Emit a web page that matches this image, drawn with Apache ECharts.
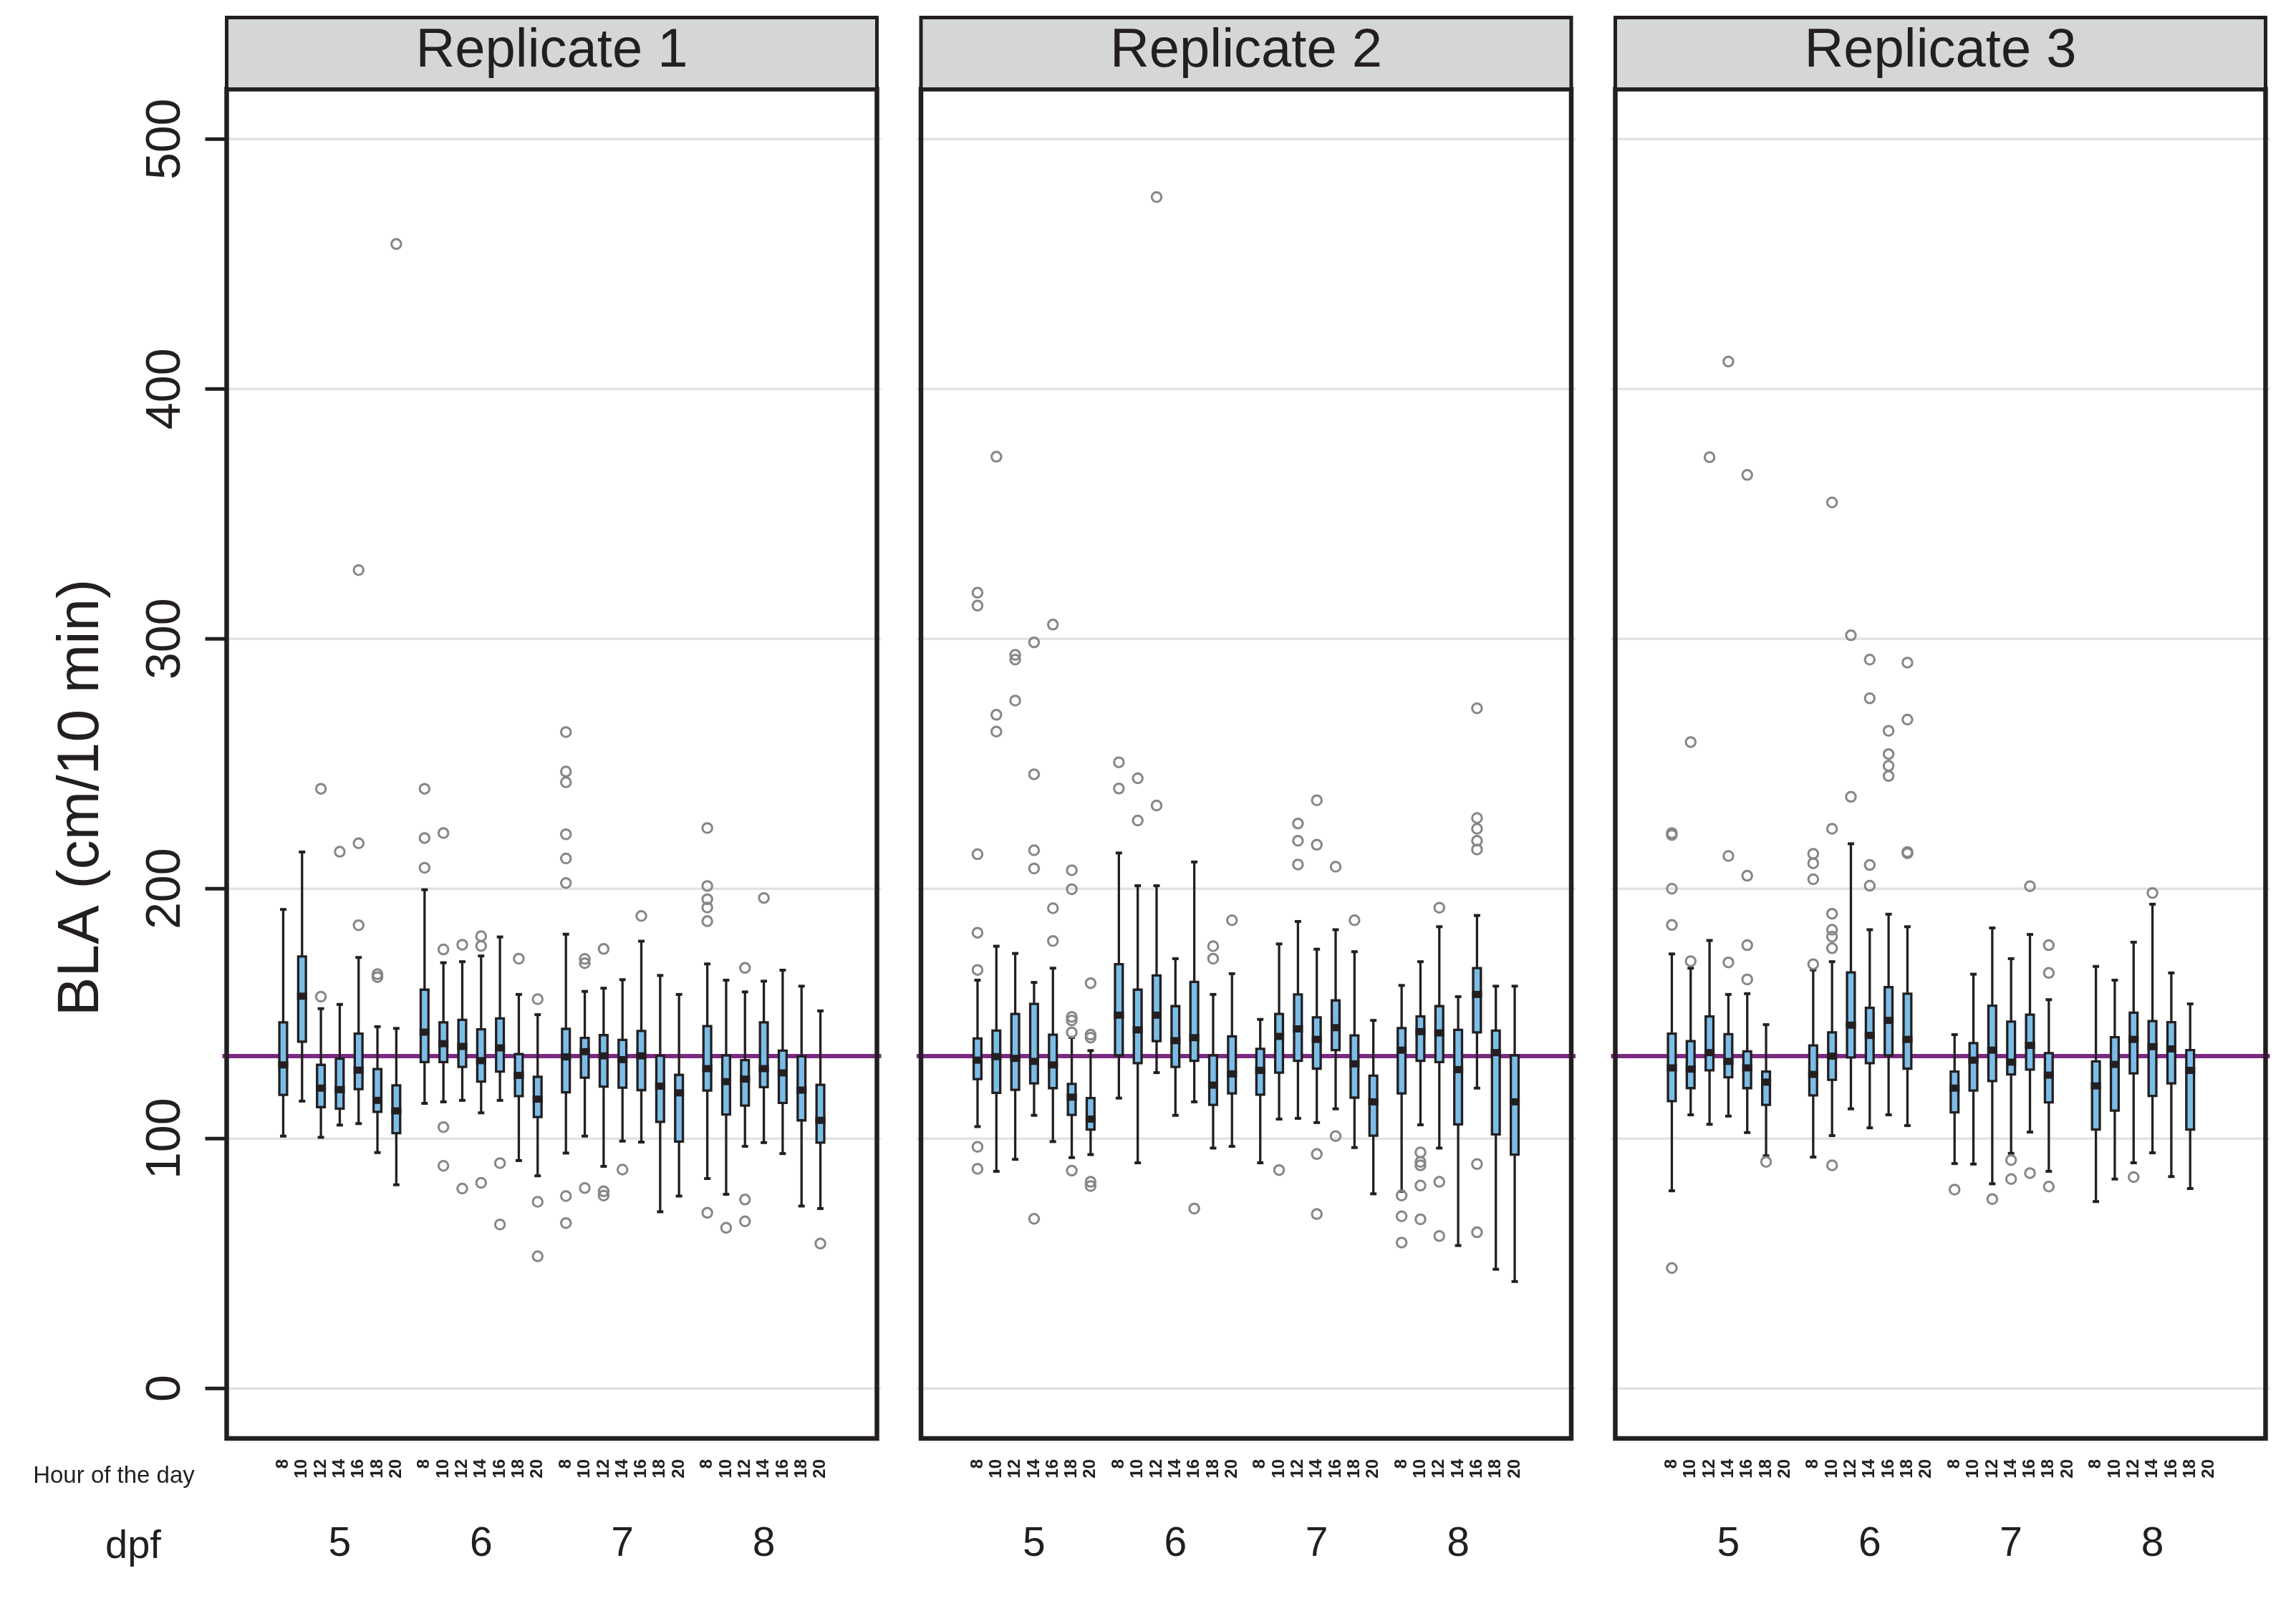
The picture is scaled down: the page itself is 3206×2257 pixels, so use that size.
<!DOCTYPE html>
<html>
<head>
<meta charset="utf-8">
<script src="https://cdn.jsdelivr.net/npm/echarts@6/dist/echarts.min.js"></script>
<style>
html,body{margin:0;padding:0;background:#fff;}
#chart{width:3206px;height:2257px;}
</style>
</head>
<body>
<div id="chart"></div>
<script>
// ---------------- DATA ----------------
const replicates = ['Replicate 1', 'Replicate 2', 'Replicate 3'];
const days = ['5', '6', '7', '8'];
const hours = ['8', '10', '12', '14', '16', '18', '20'];
const yTicks = [0, 100, 200, 300, 400, 500];
const referenceLevel = 133;

// each box: [lower whisker, Q1, median, Q3, upper whisker]; order = day 5..8, hour 8..20
const rep1Stats = [
  [101, 117.5, 129.5, 146.5, 191.7], [115, 138.8, 157, 172.9, 214.7], [100.5, 112.6, 120.2, 129.5, 152],
  [105.4, 112, 119.6, 132, 153.7], [106, 119.8, 127.4, 142, 172.5], [94.4, 110.7, 115.3, 127.8, 144.8],
  [81.5, 102.2, 111.1, 121.3, 144.1],
  [114.1, 130.6, 142.6, 159.6, 199.6], [114.7, 130.6, 138, 146.5, 170.4], [115.3, 128.7, 136.9, 147.5, 170.8],
  [110.3, 122.8, 131.2, 143.7, 173.1], [115.3, 126.8, 136.3, 148.1, 180.7], [91.2, 117, 125.3, 133.8, 157.7],
  [85.1, 108.6, 115.8, 124.7, 149.6],
  [94.2, 118.5, 132.7, 143.9, 181.8], [101, 124.4, 134.8, 140.3, 158.9], [88.9, 120.8, 133.1, 141.4, 160.2],
  [99, 120.4, 131.6, 139.5, 163.6], [98.6, 119.4, 133.1, 143.1, 179], [70.7, 106.7, 121, 133.1, 165.3],
  [77, 98.8, 118.3, 125.5, 157.7],
  [84, 119.2, 128, 145, 169.9], [77.7, 109.6, 122.8, 133.3, 163.4], [96.9, 113.2, 123.8, 131.4, 158.7],
  [98.4, 120.6, 128, 146.5, 163], [94, 114.3, 126.3, 135.2, 167.4], [73, 107.3, 119.4, 132.9, 161],
  [72, 98.4, 107.3, 121.5, 151.1]
];
const rep1Outliers = [
  [], [], [240, 156.8], [214.8], [327.5, 218.2, 185.4], [164.6, 165.8], [458],
  [240, 220.3, 208.4], [222.3, 175.7, 104.6, 89.1], [177.6, 80], [181, 177.1, 82.3], [90.2, 65.6], [172], [155.8, 74.7, 52.9],
  [262.7, 246.9, 242.6, 221.8, 212.1, 202.3, 77, 66.2], [171.9, 170.2, 80.2], [175.9, 78.9, 77.2], [87.6], [189.1], [], [],
  [224.3, 201.1, 195.8, 192.5, 187, 70.3], [64.3], [168.3, 75.6, 66.9], [196.3], [], [], [58]
];

const rep2Stats = [
  [104.8, 123.8, 131.4, 140.1, 163.4], [86.9, 118.3, 132.8, 143.2, 177], [91.7, 119.5, 132.1, 149.9, 174.1],
  [109.3, 122.1, 130.9, 153.9, 162.5], [98.8, 120.2, 129.5, 141.6, 168.2], [92.4, 109.5, 116.6, 121.9, 140.5],
  [93.6, 103.6, 107.8, 116.2, 135.2],
  [116.2, 133.3, 149.4, 169.8, 214.3], [90.3, 130.2, 143.5, 159.6, 201.2], [126.4, 139, 149.4, 165.3, 201.2],
  [109.3, 128.7, 139.2, 153, 172], [114.7, 131.1, 140.4, 162.7, 210.7], [96.2, 113.5, 121.4, 133.3, 157.7],
  [96.9, 118.1, 125.9, 140.9, 166],
  [90.3, 117.6, 127.3, 135.9, 147.7], [107.8, 126.4, 140.9, 149.9, 177.9], [108.1, 131.1, 143.9, 157.7, 186.9],
  [106.4, 128, 139.7, 148.5, 175.8], [111.9, 135.4, 144.4, 155.3, 183.6], [96.4, 116.4, 129.9, 141.3, 174.8],
  [77.9, 101.2, 114.7, 125.2, 147.3],
  [78.9, 118.1, 135.4, 144.2, 161.3], [105.5, 131.1, 142.8, 148.9, 170.8], [96.2, 130.6, 142.3, 153, 184.8],
  [57.2, 105.7, 127.6, 143.5, 156.8], [120.2, 142.5, 157.7, 168.2, 189.3], [47.7, 101.7, 134.4, 143.2, 161],
  [42.8, 93.6, 114.7, 133.3, 161]
];
const rep2Outliers = [
  [318.5, 313.3, 213.8, 182.4, 167.5, 96.7, 87.9], [372.9, 269.6, 262.9], [293.6, 291.7, 275.3],
  [298.6, 245.8, 215.4, 208.1, 67.9], [305.7, 192.2, 179.1], [207.4, 199.8, 148.7, 147.3, 142.5, 87.2],
  [162.2, 141.6, 140.4, 82.7, 81],
  [250.6, 240.1], [244.2, 227.3], [476.8, 233.3], [], [72], [177, 172], [187.4],
  [], [87.4], [226.1, 219.2, 209.7], [235.4, 217.6, 93.8, 69.8], [208.8, 101], [187.4], [],
  [77.2, 68.9, 58.4], [94.5, 90.7, 89.3, 81.2, 67.7], [192.4, 82.7, 61], [],
  [272.2, 228.3, 224, 219.2, 215.7, 89.8, 62.5], [], []
];

const rep3Stats = [
  [79.1, 115, 128.3, 142, 173.9], [109.5, 120.2, 127.8, 139, 168.2], [105.7, 127.3, 134.4, 148.9, 179.3],
  [109, 124.5, 130.9, 141.8, 157.7], [102.4, 120.2, 128.3, 134.9, 158], [93.1, 113.5, 122.6, 126.8, 145.6],
  null,
  [92.6, 117.3, 125.7, 137.3, 167.5], [101.2, 123.5, 133, 142.5, 170.8], [111.9, 132.5, 145.4, 166.5, 218],
  [104.3, 130.2, 141.3, 152.3, 183.6], [109.5, 133.3, 147.3, 160.6, 189.8], [105.2, 128, 139.7, 158, 184.8],
  null,
  [90, 110.5, 120.2, 126.8, 141.6], [89.8, 119.2, 131.4, 138.2, 165.8], [81.9, 123, 135.4, 153.2, 184.3],
  [94.1, 125.7, 130.6, 146.8, 172], [102.6, 127.6, 137.3, 149.6, 181.7], [86.9, 114.5, 125.4, 134.2, 155.6],
  null,
  [74.8, 103.6, 121.1, 130.9, 168.9], [83.8, 111.2, 129.7, 140.6, 163.4], [90.3, 126.1, 139.7, 150.4, 178.6],
  [94.3, 117.1, 136.8, 147, 193.8], [84.8, 122.1, 135.9, 146.6, 166.3], [80, 103.6, 127.3, 135.4, 153.9],
  null
];
const rep3Outliers = [
  [222.3, 221.5, 200, 185.5, 48.2], [258.7, 171], [372.7], [411, 213.1, 170.5], [365.6, 205.2, 177.4, 163.7], [90.7], [],
  [214, 210.2, 203.8, 169.8], [354.6, 224, 190, 183.6, 180.8, 176.2, 89.3], [301.4, 236.8],
  [291.7, 276.2, 209.5, 201.2], [263.2, 253.9, 249.2, 245.1], [290.5, 267.7, 214.7, 214.2], [],
  [79.6], [], [75.8], [91.4, 83.8], [201, 86.2], [177.4, 166.3, 80.8], [],
  [], [], [84.6], [198.3], [], [], []
];

const allStats = [rep1Stats, rep2Stats, rep3Stats];
const allOutliers = [rep1Outliers, rep2Outliers, rep3Outliers];

// ---------------- LAYOUT / STYLE ----------------
const FONT = "'Liberation Sans', Arial, Helvetica, sans-serif";
const INK = '#231f20';
const BOX_FILL = '#7bbde8';
const OUTLIER = '#868686';
const GRIDLINE = '#e2e2e2';
const PURPLE = '#7b2a82';
const HEADER_FILL = '#d5d6d8';

const panelLefts = [316.5, 1286, 2255.5];
const panelWidth = 908;
const gridTop = 124.5;
const gridHeight = 1884.5;
const headerTop = 24.5;
const dayGap = 0.5;           // extra empty slot between days
const slotsPerDay = hours.length + dayGap;
const xMin = -3;
const xMax = (days.length - 1) * slotsPerDay + (hours.length - 1) + 3;

function posOf(d, h) { return d * slotsPerDay + h; }
function dayCenter(d) { return d * slotsPerDay + (hours.length - 1) / 2; }
function near(a, b) { return Math.abs(a - b) < 1e-6; }
function hourLabelAt(v) {
  for (let d = 0; d < days.length; d++)
    for (let h = 0; h < hours.length; h++)
      if (near(posOf(d, h), v)) return hours[h];
  return '';
}
function dayLabelAt(v) {
  for (let d = 0; d < days.length; d++) if (near(dayCenter(d), v)) return days[d];
  return '';
}

const chart = echarts.init(document.getElementById('chart'), null, { renderer: 'canvas' });

const grids = [], xAxes = [], yAxes = [], series = [], graphics = [];

function hLine(cs, y, color, width) {
  return {
    type: 'line',
    shape: { x1: cs.x - 6, y1: y, x2: cs.x + cs.width + 6, y2: y },
    style: { stroke: color, lineWidth: width }
  };
}

replicates.forEach((name, i) => {
  grids.push({
    left: panelLefts[i], top: gridTop, width: panelWidth, height: gridHeight,
    show: true, borderColor: INK, borderWidth: 6.5, backgroundColor: 'transparent', z: 0
  });
  // hour-of-day axis
  xAxes.push({
    type: 'value', gridIndex: i, min: xMin, max: xMax, interval: 0.5,
    axisLine: { show: false }, axisTick: { show: false }, splitLine: { show: false },
    axisLabel: {
      formatter: hourLabelAt, rotate: 90, fontSize: 24, fontWeight: 'bold', margin: 29,
      color: INK, fontFamily: FONT, showMinLabel: true, showMaxLabel: true
    }
  });
  // dpf axis
  xAxes.push({
    type: 'value', gridIndex: i, min: xMin, max: xMax, interval: 0.5, position: 'bottom',
    axisLine: { show: false }, axisTick: { show: false }, splitLine: { show: false },
    axisLabel: { formatter: dayLabelAt, fontSize: 57, margin: 120, color: INK, fontFamily: FONT }
  });
  yAxes.push({
    type: 'value', gridIndex: i, min: -20, max: 520, interval: 20,
    axisLine: { show: false }, axisTick: { show: false }, splitLine: { show: false },
    axisLabel: {
      show: i === 0, rotate: 90, fontSize: 68, margin: 50, color: INK, fontFamily: FONT,
      formatter: v => (yTicks.indexOf(v) >= 0 ? String(v) : '')
    }
  });

  const xIdx = i * 2;
  // gridlines + y ticks (drawn beneath the panel frame)
  series.push({
    type: 'custom', xAxisIndex: xIdx, yAxisIndex: i, clip: false, silent: true, z: -2,
    data: yTicks.map(v => [xMin, v]),
    encode: { x: 0, y: 1 },
    renderItem: (params, api) => {
      const p = api.coord([api.value(0), api.value(1)]);
      const cs = params.coordSys;
      const children = [hLine(cs, p[1], GRIDLINE, 3.5)];
      if (i === 0) children.push({
        type: 'line',
        shape: { x1: cs.x - 30, y1: p[1], x2: cs.x, y2: p[1] },
        style: { stroke: INK, lineWidth: 5 }
      });
      return { type: 'group', children };
    }
  });
  // reference line
  series.push({
    type: 'custom', xAxisIndex: xIdx, yAxisIndex: i, clip: false, silent: true, z: -1,
    data: [[xMin, referenceLevel]],
    encode: { x: 0, y: 1 },
    renderItem: (params, api) => {
      const p = api.coord([api.value(0), api.value(1)]);
      return hLine(params.coordSys, p[1], PURPLE, 6);
    }
  });
  // boxes
  const boxData = [];
  const outData = [];
  allStats[i].forEach((s, k) => {
    const d = Math.floor(k / hours.length), h = k % hours.length;
    const x = posOf(d, h);
    if (s) boxData.push([x, s[0], s[1], s[2], s[3], s[4]]);
    allOutliers[i][k].forEach(v => outData.push([x, v]));
  });
  series.push({
    type: 'custom', xAxisIndex: xIdx, yAxisIndex: i, z: 3, silent: true,
    data: boxData,
    encode: { x: 0, y: [1, 2, 3, 4, 5] },
    renderItem: (params, api) => {
      const x = api.value(0);
      const lo = api.coord([x, api.value(1)]);
      const q1 = api.coord([x, api.value(2)]);
      const md = api.coord([x, api.value(3)]);
      const q3 = api.coord([x, api.value(4)]);
      const hi = api.coord([x, api.value(5)]);
      const slot = api.size([1, 0])[0];
      const bw = slot * 0.41;
      const cw = slot * 0.34;
      const cx = lo[0];
      const lw = 3.3;
      return {
        type: 'group',
        children: [
          { type: 'line', shape: { x1: cx, y1: hi[1], x2: cx, y2: lo[1] }, style: { stroke: INK, lineWidth: lw } },
          { type: 'rect', shape: { x: cx - cw / 2, y: hi[1] - 2, width: cw, height: 4 }, style: { fill: INK } },
          { type: 'rect', shape: { x: cx - cw / 2, y: lo[1] - 2, width: cw, height: 4 }, style: { fill: INK } },
          { type: 'rect', shape: { x: cx - bw / 2, y: q3[1], width: bw, height: q1[1] - q3[1] },
            style: { fill: BOX_FILL, stroke: INK, lineWidth: lw } },
          { type: 'rect', shape: { x: cx - bw / 2 - lw / 2, y: md[1] - 5, width: bw + lw, height: 10 }, style: { fill: INK } }
        ]
      };
    }
  });
  // outliers
  series.push({
    type: 'scatter', xAxisIndex: xIdx, yAxisIndex: i, z: 4, silent: true,
    symbol: 'circle', symbolSize: 13.5,
    itemStyle: { color: 'rgba(255,255,255,0)', borderColor: OUTLIER, borderWidth: 3, opacity: 1 },
    data: outData
  });

  // strip header
  graphics.push({
    type: 'rect', z: 10,
    shape: { x: panelLefts[i], y: headerTop, width: panelWidth, height: gridTop - headerTop },
    style: { fill: HEADER_FILL, stroke: INK, lineWidth: 5 }
  });
  graphics.push({
    type: 'text', z: 11,
    x: panelLefts[i] + panelWidth / 2, y: (headerTop + gridTop) / 2 - 2,
    style: { text: name, font: '76px ' + FONT, fill: INK, align: 'center', verticalAlign: 'middle',
             textAlign: 'center', textVerticalAlign: 'middle' }
  });
});

graphics.push({
  type: 'text', z: 11, x: 114, y: 1114, rotation: Math.PI / 2,
  style: { text: 'BLA (cm/10 min)', font: '82px ' + FONT, fill: INK, align: 'center', verticalAlign: 'middle',
           textAlign: 'center', textVerticalAlign: 'middle' }
});
graphics.push({
  type: 'text', z: 11, x: 159, y: 2062,
  style: { text: 'Hour of the day', font: '33px ' + FONT, fill: INK, align: 'center', verticalAlign: 'middle',
           textAlign: 'center', textVerticalAlign: 'middle' }
});
graphics.push({
  type: 'text', z: 11, x: 186, y: 2161,
  style: { text: 'dpf', font: '56px ' + FONT, fill: INK, align: 'center', verticalAlign: 'middle',
           textAlign: 'center', textVerticalAlign: 'middle' }
});

chart.setOption({
  animation: false,
  backgroundColor: '#ffffff',
  textStyle: { fontFamily: FONT },
  grid: grids,
  xAxis: xAxes,
  yAxis: yAxes,
  series: series,
  graphic: graphics
});
</script>
</body>
</html>
